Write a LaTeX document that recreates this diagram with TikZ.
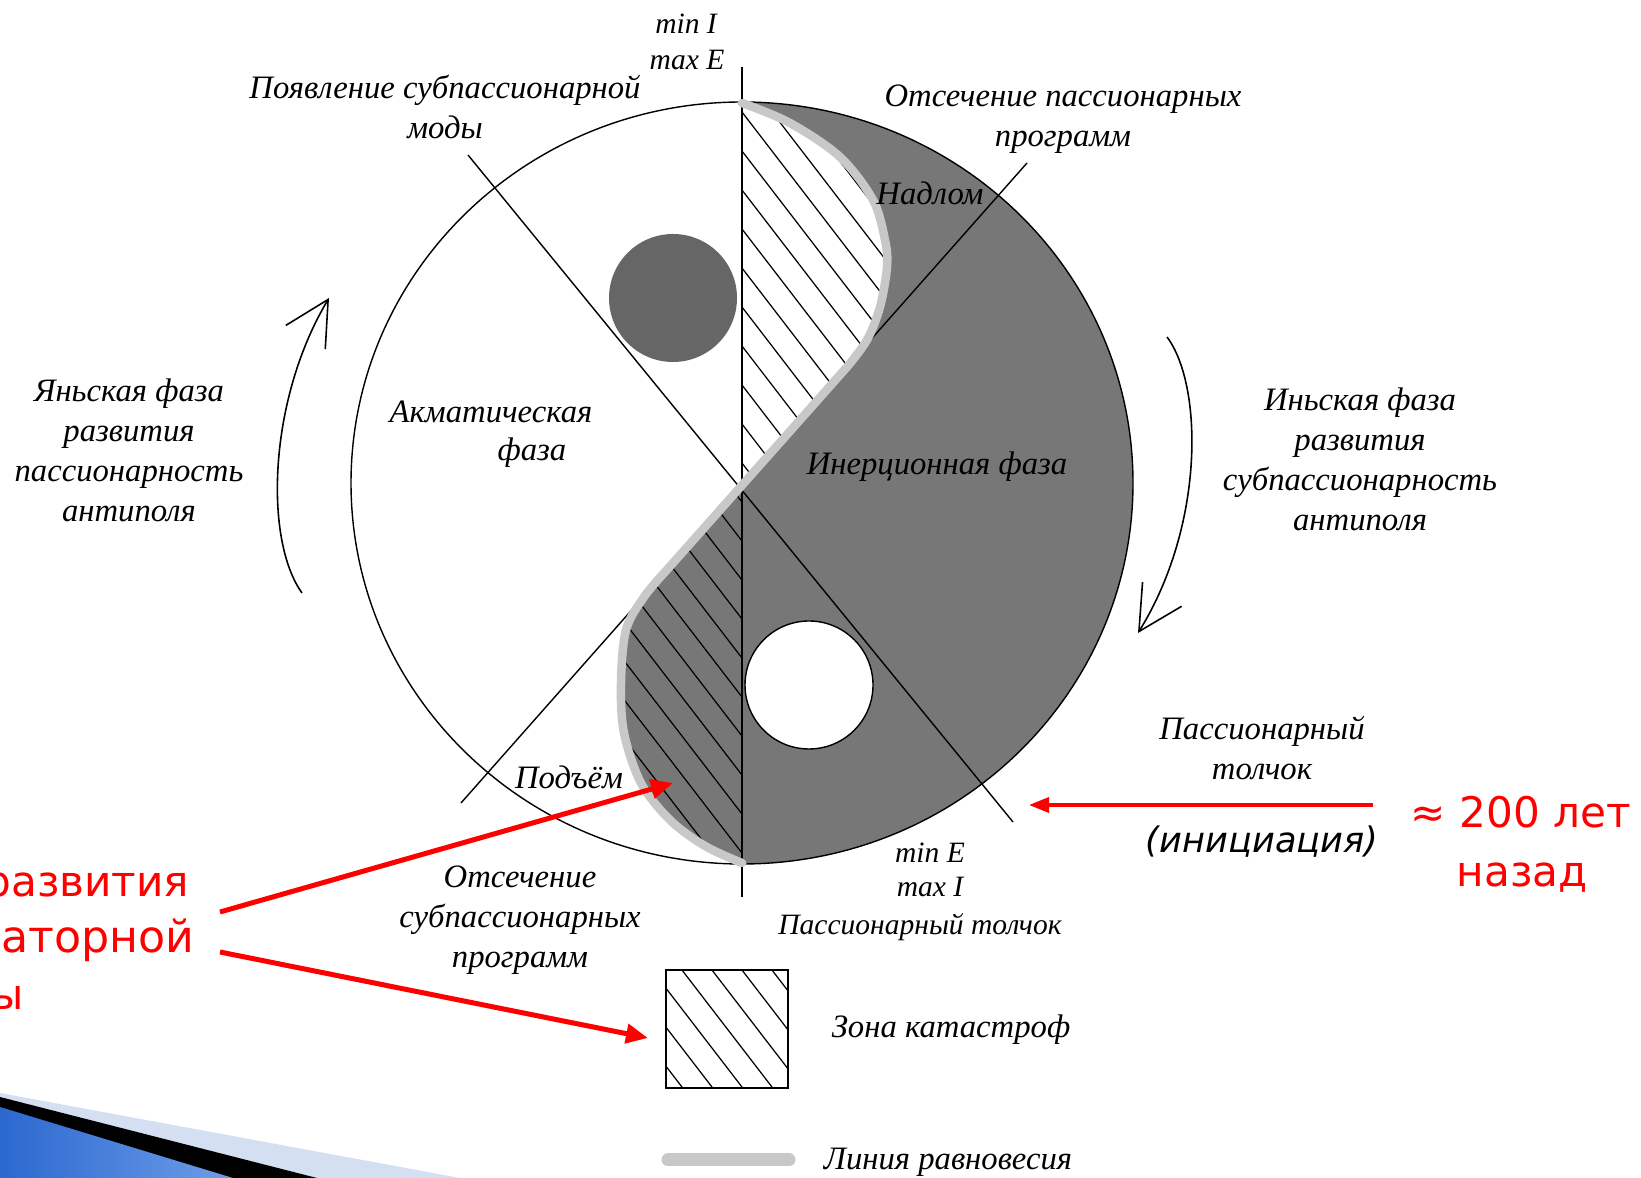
\documentclass[tikz,border=0pt]{standalone}
\usepackage{fontspec}
\setmainfont{Liberation Serif}
\newfontfamily\slidefont{DejaVu Sans}
\usetikzlibrary{arrows.meta}
\definecolor{inertgray}{HTML}{777777}
\definecolor{yangdot}{HTML}{666666}
\definecolor{eqline}{HTML}{C8C8C8}
\definecolor{slidelight}{HTML}{D5DFF2}
\definecolor{slideblue}{HTML}{2B68CF}
\definecolor{slidesky}{HTML}{6E9DE8}

\tikzset{
	lab/.style={font=\fontsize{9.3}{11.4}\selectfont\itshape, align=center, inner sep=0pt},
	minmax/.style={font=\fontsize{8.4}{10}\selectfont\itshape, inner sep=0pt},
	redlab/.style={font=\slidefont\fontsize{12}{16}\selectfont, text=red, inner sep=0pt},
	guide/.style={line width=0.4pt},
	hatchline/.style={line width=0.35pt},
	eqband/.style={draw=eqline, line width=0.85mm, line cap=round, line join=round},
	phasearrow/.style={line width=0.45pt, -{Straight Barb[length=4.4mm,width=4.6mm]}},
	redarrow/.style={draw=red, line width=0.5mm, -{Triangle[length=2.2mm,width=1.9mm]}}
}

% S-curve of the equilibrium line, in pixel units
\newcommand{\supperlobe}{plot[smooth,tension=.55] coordinates {(742,103) (790,123) (840,157) (873,200) (885,240) (887,267) (880,307) (867,340) (847,367)}}
\newcommand{\slowerlobe}{-- plot[smooth,tension=.55] coordinates {(665,572) (644,597) (626,630) (621,683) (624,733) (641,783) (670,820) (705,846) (742,863)}}
\newcommand{\hatchfill}{\foreach \k in {0,...,36} {\draw[hatchline] (-214.2+\k*30,0) -- ++(900,1170);}}

\begin{document}
\begin{tikzpicture}[x=0.1mm,y=-0.1mm]
	\useasboundingbox (0,0) rectangle (1641,1178);
	\clip (0,0) rectangle (1641,1178);
	\fill[white] (0,0) rectangle (1641,1178);
	% slide corner
	\fill[slidelight] (0,1093) -- (460,1178) -- (0,1178) -- cycle;
	\fill[black] (0,1097) -- (317,1178) -- (0,1178) -- cycle;
	\shade[left color=slideblue, right color=slidesky] (0,1107) -- (233,1178) -- (0,1178) -- cycle;
	% inertial half
	\begin{scope}
		\clip (742,483) ellipse [x radius=39.1mm, y radius=38.1mm];
		\fill[inertgray] \supperlobe \slowerlobe -- (1200,863) -- (1200,103) -- cycle;
	\end{scope}
	% catastrophe zones
	\begin{scope}
		\clip \supperlobe -- (742,485) -- cycle;
		\hatchfill
	\end{scope}
	\begin{scope}
		\clip (742,485) \slowerlobe -- cycle;
		\hatchfill
	\end{scope}
	% dots
	\fill[yangdot] (673,298) circle[radius=6.4mm];
	\filldraw[fill=white, draw=black, guide] (809,685) circle[radius=6.4mm];
	% axes
	\coordinate (aup) at (468,155);
	\coordinate (adown) at (1013,822);
	\coordinate (blow) at (461,803);
	\coordinate (bup) at (1027,163);
	\coordinate (vtop) at (742,67);
	\coordinate (vbot) at (742,897);
	\draw[guide] (aup) -- (adown);
	\draw[guide] (blow) -- (bup);
	\draw[guide] (vtop) -- (vbot);
	\draw[guide] (742,483) ellipse [x radius=39.1mm, y radius=38.1mm];
	\draw[eqband] \supperlobe \slowerlobe;
	% labels
	\node[minmax] (minI) at (686,24) {min I};
	\node[minmax] (maxE) at (687,60) {max E};
	\node[lab] (emerge) at (445,107) {Появление субпассионарной\\моды};
	\node[lab] (cutpass) at (1063,119) {Отсечение пассионарных\\программ};
	\node[lab] (nadlom) at (930,193) {Надлом};
	\node[lab] (yangtxt) at (129,450) {Яньская фаза\\развития\\пассионарность\\антиполя};
	\node[lab] (akmatic) at (491,412) {Акматическая};
	\node[lab] (akmfaza) at (532,453) {фаза};
	\node[lab] (inertia) at (937,467) {Инерционная фаза};
	\node[lab] (yintxt) at (1360,459) {Иньская фаза\\развития\\субпассионарность\\антиполя};
	\node[lab] (pushtxt) at (1262,748) {Пассионарный\\толчок};
	\node[lab] (rise) at (569,777) {Подъём};
	\node[lab] (cutsub) at (520,920) {Отсечение\\субпассионарных\\программ};
	\node[minmax] (minE) at (930,853) {min E};
	\node[minmax] (maxI) at (930,887) {max I};
	\node[lab, font=\fontsize{8.4}{10}\selectfont\itshape] (pushdate) at (920,927) {Пассионарный толчок};
	\node[font=\slidefont\itshape\fontsize{10}{12}\selectfont, inner sep=0pt] (initiation) at (1262,842) {(инициация)};
	\node[redlab, anchor=base] (years) at (1521,828) {≈ 200 лет};
	\node[redlab, anchor=base] (ago) at (1522,887) {назад};
	\node[redlab, anchor=base east] (phase1) at (190,897) {развития};
	\node[redlab, anchor=base east, font=\slidefont\fontsize{12.6}{16}\selectfont] (phase2) at (195,953) {аторной};
	\node[redlab, anchor=base east] (phase3) at (25,1010) {ы};
	% phase arrows
	\draw[phasearrow] (302,593) .. controls (264,540) and (268,400) .. (329,298);
	\draw[phasearrow] (1167,337) .. controls (1203,385) and (1205,525) .. (1138,633);
	% red pointers
	\coordinate (tail1) at (220,912);
	\coordinate (tip1) at (673,783);
	\coordinate (tail2) at (220,952);
	\coordinate (tip2) at (648,1038);
	\coordinate (pushtail) at (1373,805);
	\coordinate (pushtip) at (1029,805);
	\draw[redarrow] (tail1) -- (tip1);
	\draw[redarrow] (tail2) -- (tip2);
	\draw[red, line width=0.35mm, -{Triangle[length=2mm,width=1.5mm]}] (pushtail) -- (pushtip);
	% legend
	\begin{scope}
		\clip (666,970) rectangle (788,1088);
		\hatchfill
	\end{scope}
	\node[draw, line width=0.6pt, minimum width=12.2mm, minimum height=11.8mm, inner sep=0pt] (legzone) at (727,1029) {};
	\node[lab] (zonetxt) at (951,1030) {Зона катастроф};
	\draw[eqband, line width=1.3mm] (668,1160) -- (789,1160);
	\node[lab] (eqtxt) at (948,1162) {Линия равновесия};
\end{tikzpicture}
\end{document}
